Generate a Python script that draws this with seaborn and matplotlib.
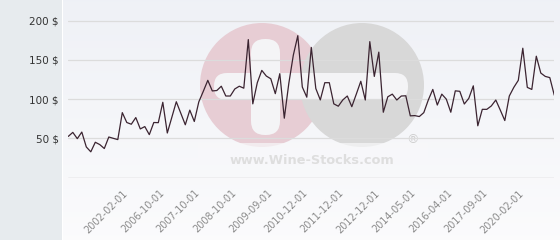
import numpy as np
import pandas as pd
import matplotlib
matplotlib.use("Agg")
import matplotlib.pyplot as plt
import matplotlib.transforms as mtransforms
import seaborn as sns
from matplotlib.patches import Circle, FancyBboxPatch, Rectangle

# ---- data ----
prices = [52.5, 57.6, 49.6, 58, 39, 32.8, 45, 42, 37, 51.7,
          50, 48.4, 82.8, 70.2, 68, 76.5, 62, 65, 54.7, 70.2,
          70, 96, 56.8, 76.7, 96.7, 82, 67.3, 86, 71.5, 96.5,
          110, 124, 110.5, 111, 116.5, 104, 104, 113, 116.5, 114,
          176, 94, 121, 136.7, 129.5, 126, 107, 132.5, 75.7, 120,
          156, 181, 115.5, 102.5, 166, 113.6, 99, 121, 121, 94,
          91, 99, 104, 90.4, 106.4, 122.8, 98.9, 173.4, 129, 160,
          83.3, 103, 106.4, 98.9, 104, 104.3, 78.7, 79, 77.8, 82.8,
          98.9, 112.4, 92.5, 106.4, 100, 83.3, 110.6, 110, 93.8, 101,
          117, 66, 87, 87, 91.3, 98.9, 86, 72.7, 104, 115,
          124, 165, 115, 112.4, 154.8, 133.3, 129, 127.5, 105]
tick_index = [13, 21, 29, 37, 45, 53, 61, 69, 77, 85, 93, 101]
tick_labels = ["2002-02-01", "2006-10-01", "2007-10-01", "2008-10-01",
               "2009-09-01", "2010-12-01", "2011-12-01", "2012-12-01",
               "2014-05-01", "2016-04-01", "2017-09-01", "2020-02-01"]
y_ticks = [50, 100, 150, 200]

df = pd.DataFrame({"idx": np.arange(len(prices)), "price": prices})

sns.set_theme(style="white")
plt.rcParams['font.family'] = ['DejaVu Sans']

W, H = 560, 240
fig = plt.figure(figsize=(W / 100, H / 100), dpi=100)
fig.patch.set_facecolor("white")

# background gradient for the plot region
bg = fig.add_axes([63 / W, 0, 1 - 63 / W, 1], zorder=0)
grad = np.linspace(0, 1, 256).reshape(-1, 1)
top = np.array([0.937, 0.945, 0.965])
bot = np.array([0.985, 0.985, 0.99])
img = top[None, None, :] * (1 - grad[:, :, None]) + bot[None, None, :] * grad[:, :, None]
bg.imshow(img, aspect="auto", extent=[0, 1, 0, 1])
bg.set_axis_off()

# left panel
fig.patches.append(Rectangle((0, 0), 62 / W, 1, transform=fig.transFigure,
                             facecolor="#e7ebee", edgecolor="none", zorder=1))

# watermark (figure pixel coords)
wm = fig.add_axes([0, 0, 1, 1], zorder=2)
wm.set_xlim(0, W)
wm.set_ylim(H, 0)
wm.set_axis_off()
wm.patch.set_alpha(0)
wm.add_patch(Circle((262, 85), 62, facecolor="#e7cdd4", edgecolor="none"))
wm.add_patch(Circle((362, 85), 62, facecolor="#d8d8d8", edgecolor="none"))
wm.add_patch(FancyBboxPatch((214, 73), 194, 27, boxstyle="round,pad=0,rounding_size=13",
                            facecolor="#f4f4f6", edgecolor="none"))
wm.add_patch(FancyBboxPatch((251, 39), 29, 96, boxstyle="round,pad=0,rounding_size=14",
                            facecolor="#f4f4f6", edgecolor="none"))
wm.add_patch(Rectangle((198, 143), 230, 30, facecolor="#f8f8fa", edgecolor="none", alpha=0.7))
wm.text(312, 160, "www.Wine-Stocks.com", ha="center", va="center", fontsize=9.3,
        fontweight="bold", color="#dedede")
wm.text(413, 140, "®", ha="center", va="center", fontsize=9, color="#cfcfcf")

# main axes
ax = fig.add_axes([68.3 / W, (H - 178.3) / H, (554.3 - 68.3) / W, (178.3 - 20) / H], zorder=3)
ax.patch.set_alpha(0)
sns.lineplot(data=df, x="idx", y="price", ax=ax, color="#3b2431", linewidth=0.9)
ax.set_xlim(0, len(prices) - 1)
ax.set_ylim(-1, 201)
ax.set_yticks([0] + y_ticks)
ax.set_yticklabels([""] + [f"{v} $" for v in y_ticks], fontsize=7.5, color="#333333")
ax.yaxis.grid(True, color="#dcdcdc", linewidth=0.9)
ax.axhline(0, color="#d8d8d8", linewidth=1.0, zorder=0.5)
ax.set_axisbelow(True)
ax.set_xticks(tick_index)
ax.set_xticklabels(tick_labels, rotation=45, ha="right", va="top",
                   rotation_mode="anchor", fontsize=7, color="#8a8a8a")
ax.tick_params(axis="x", length=0, pad=7)
ax.tick_params(axis="y", length=0, pad=7)
shift = mtransforms.ScaledTranslation(-4 / 100, 0, fig.dpi_scale_trans)
for lab in ax.get_xticklabels():
    lab.set_transform(lab.get_transform() + shift)
ax.set_xlabel("")
ax.set_ylabel("")
for s in ax.spines.values():
    s.set_visible(False)

fig.savefig("out.png", dpi=100)
